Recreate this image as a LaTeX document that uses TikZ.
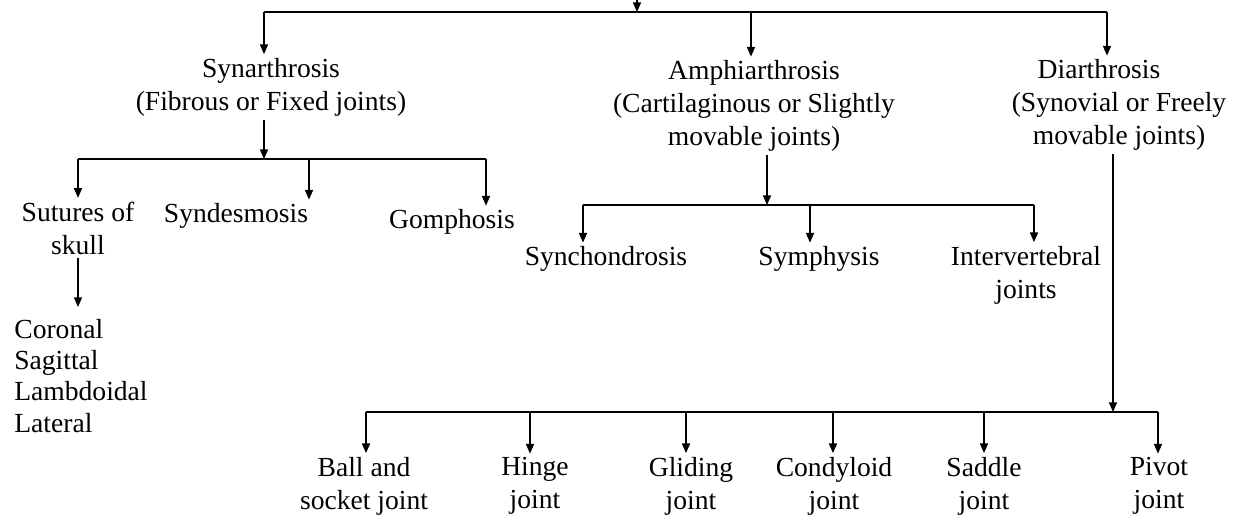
\documentclass[tikz,border=0pt]{standalone}
\usepackage{fontspec}
\setmainfont{Liberation Serif}
\usetikzlibrary{arrows.meta}
\tikzset{
  nd_txt/.style={
    align=center, inner sep=2pt,
    font=\fontsize{15.7}{18.8}\selectfont},
  nd_list/.style={
    align=left, inner sep=0pt, anchor=west,
    font=\fontsize{15.7}{17.7}\selectfont},
  arr/.style={-{Triangle[length=5.5pt,width=4.6pt]},line width=0.75pt},
  bus/.style={line width=1.1pt},
}

\begin{document}
\begin{tikzpicture}[x=0.02cm,y=-0.02cm]
\useasboundingbox (0,0) rectangle (1241,522);

%% bus levels
\coordinate (r0)  at (637,0);
\coordinate (b0)  at (637,12);
\coordinate (b0L) at (264,12);
\coordinate (b0M) at (751,12);
\coordinate (b0R) at (1107,12);

%% ── level 1 ─────────────────────────────────────────────
\node[nd_txt] at (271,87)   (syn){Synarthrosis\\(Fibrous or Fixed joints)};
\node[nd_txt] at (754,106)  (amp){Amphiarthrosis\\(Cartilaginous or Slightly\\movable joints)};
\node[nd_txt] at (1119,105) (dia){Diarthrosis\hspace*{0.8cm}\\(Synovial or Freely\\movable joints)};

\draw[arr] (r0)--(b0);
\draw[bus] (b0L)--(b0R);
\draw[arr] (b0L)--(b0L|-syn.north);
\draw[arr] (b0M)--(b0M|-amp.north);
\draw[arr] (b0R)--(b0R|-dia.north);

%% ── fibrous ─────────────────────────────────────────────
\coordinate (b1)  at (264,159);
\coordinate (b1L) at (78,159);
\coordinate (b1M) at (309,159);
\coordinate (b1R) at (486,159);

\node[nd_txt]  at (78,228)  (sut){Sutures of\\skull};
\node[nd_txt]  at (236,216) (syd){Syndesmosis};
\node[nd_txt]  at (452,222) (gom){Gomphosis};
\node[nd_list] at (14,376)  (sul){Coronal\\Sagittal\\Lambdoidal\\Lateral};

\draw[arr] (b1|-syn.south)--(b1);
\draw[bus] (b1L)--(b1R);
\draw[arr] (b1L)--(b1L|-sut.north);
\draw[arr] (b1M)--(b1M|-syd.north);
\draw[arr] (b1R)--(b1R|-gom.north);
\draw[arr,shorten >=7pt] (sut.south)--(sut.south|-sul.north);

%% ── cartilaginous ───────────────────────────────────────
\coordinate (b2)  at (767,205);
\coordinate (b2L) at (583,205);
\coordinate (b2M) at (810,205);
\coordinate (b2R) at (1034,205);

\node[nd_txt] at (606,259)  (sch){Synchondrosis};
\node[nd_txt] at (819,259)  (sym){Symphysis};
\node[nd_txt] at (1026,275) (ivj){Intervertebral\\joints};

\draw[arr] (b2|-amp.south)--(b2);
\draw[bus] (b2L)--(b2R);
\draw[arr] (b2L)--(b2L|-sch.north);
\draw[arr] (b2M)--(b2M|-sym.north);
\draw[arr] (b2R)--(b2R|-ivj.north);

%% ── synovial ────────────────────────────────────────────
\coordinate (b3)  at (1113,412);
\coordinate (b3L) at (366,412);
\coordinate (b3R) at (1158,412);

\node[nd_txt] at (364,486)  (bal){Ball and\\socket joint};
\node[nd_txt] at (535,486)  (hin){Hinge\\joint};
\node[nd_txt] at (691,486)  (gli){Gliding\\joint};
\node[nd_txt] at (834,486)  (con){Condyloid\\joint};
\node[nd_txt] at (984,486)  (sad){Saddle\\joint};
\node[nd_txt] at (1159,486) (piv){Pivot\\joint};

\draw[arr] (b3|-dia.south)--(b3);
\draw[bus] (b3L)--(b3R);
\draw[arr] (b3L)--(b3L|-bal.north);
\draw[arr] (530,412)--(530,412|-hin.north);
\draw[arr] (686,412)--(686,412|-gli.north);
\draw[arr] (833,412)--(833,412|-con.north);
\draw[arr] (984,412)--(984,412|-sad.north);
\draw[arr] (b3R)--(b3R|-piv.north);

\end{tikzpicture}
\end{document}
